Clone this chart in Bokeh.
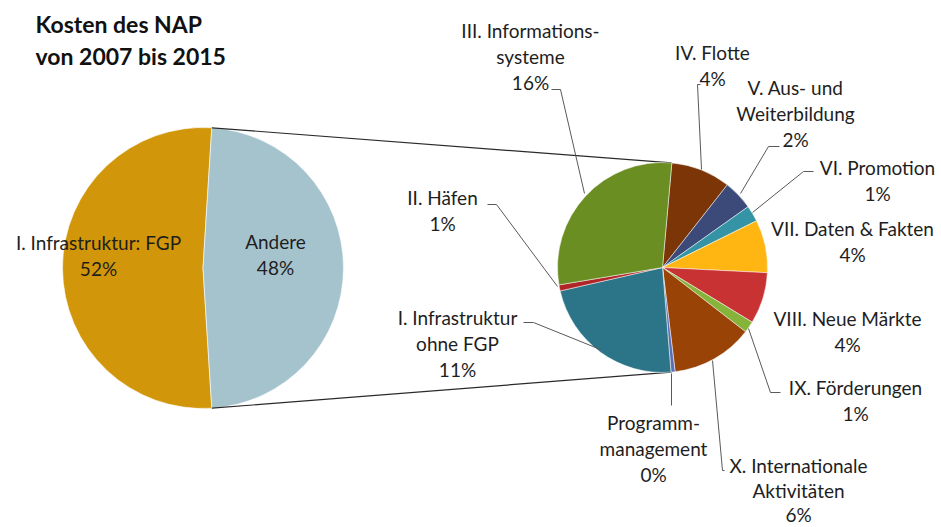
import numpy as np
from bokeh.plotting import figure
from bokeh.models import Range1d
from bokeh.core.properties import value
from bokeh.embed import file_html
from bokeh.resources import INLINE

# ---------------- data ----------------
title_lines = ["Kosten des NAP", "von 2007 bis 2015"]

main_names = ["I. Infrastruktur: FGP", "Andere"]
main_values = [52.0, 48.0]
main_pct_labels = ["52%", "48%"]
main_colors = ["#D19609", "#A5C3CD"]

sub_names = [
    "IV. Flotte",
    "V. Aus- und\nWeiterbildung",
    "VI. Promotion",
    "VII. Daten & Fakten",
    "VIII. Neue Märkte",
    "IX. Förderungen",
    "X. Internationale\nAktivitäten",
    "Programm-\nmanagement",
    "I. Infrastruktur\nohne FGP",
    "II. Häfen",
    "III. Informations-\nsysteme",
]
sub_values = [4.4, 2.2, 1.2, 3.9, 3.8, 0.85, 6.05, 0.3, 10.9, 0.45, 13.95]
sub_pct_labels = ["4%", "2%", "1%", "4%", "4%", "1%", "6%", "0%", "11%", "1%", "16%"]
sub_colors = ["#7B3506", "#3B4A78", "#3494A6", "#FFB612", "#C83232", "#86B43A",
              "#994307", "#5B6EB5", "#2C7589", "#B02525", "#6B8E23"]

# ---------------- layout (pixel space, y measured from top) ----------------
W, H = 941, 527
def Y(y):
    return H - y

C1 = (202.5, 267.5); R1 = 140.5
C2 = (662.0, 267.0); R2 = 105.0
SUB_START_DEG = 5.1      # clockwise from 12 o'clock
CONNECT_DEG = 5.0        # connector attach angle on second pie

FONT = "Lato"
TXT = "#1E1E1E"
LH = 25.8

main_label_pos = [(98, 242), (275, 241)]
sub_label_pos = [
    (712, 52),   # IV
    (795, 87),   # V
    (877, 167),  # VI
    (852, 228),  # VII
    (847, 318),  # VIII
    (855, 387),  # IX
    (798, 465),  # X
    (653, 422),  # Programm
    (457, 317),  # I ohne FGP
    (442, 197),  # II
    (530, 30),   # III
]
sub_line_h = [LH] * 6 + [24.5] + [LH] * 4
leaders = [
    [(700, 84), (697, 84), (701, 169)],
    [(779, 146), (768, 146), (740, 193)],
    [(813, 171), (803, 171), (752, 212)],
    None,
    None,
    [(780, 392), (770, 392), (748, 328)],
    [(724, 470), (722, 470), (712, 360)],
    [(671, 405), (671, 373)],
    [(523, 322), (533, 322), (600, 349)],
    [(487, 204), (496, 204), (557, 286)],
    [(551, 89), (560, 89), (584, 193)],
]

p = figure(width=W, height=H, x_range=Range1d(0, W), y_range=Range1d(0, H),
           output_backend="svg", toolbar_location=None, min_border=0)
p.axis.visible = False
p.grid.visible = False
p.outline_line_color = None
p.background_fill_color = "white"
p.border_fill_color = "white"

# ---------------- main pie ----------------
mv = np.array(main_values)
half = np.pi * mv[1] / mv.sum()        # Andere centered on the right side
main_start = [half, -half]
main_end = [2 * np.pi - half, half]
p.wedge(x=[C1[0]] * 2, y=[Y(C1[1])] * 2, radius=R1,
        start_angle=main_start, end_angle=main_end, direction="anticlock",
        fill_color=main_colors, line_color="white", line_width=0.6)

# ---------------- connectors ----------------
ca = np.deg2rad(CONNECT_DEG)
top_l = (C1[0] + R1 * np.cos(half), Y(C1[1]) + R1 * np.sin(half))
bot_l = (C1[0] + R1 * np.cos(half), Y(C1[1]) - R1 * np.sin(half))
top_r = (C2[0] + R2 * np.sin(ca), Y(C2[1]) + R2 * np.cos(ca))
bot_r = (C2[0] + R2 * np.sin(ca), Y(C2[1]) - R2 * np.cos(ca))
p.multi_line(xs=[[top_l[0], top_r[0]], [bot_l[0], bot_r[0]]],
             ys=[[top_l[1], top_r[1]], [bot_l[1], bot_r[1]]],
             line_color="#2A2A2A", line_width=1.2)

# ---------------- second pie ----------------
sv = np.array(sub_values)
cum = np.concatenate([[0], np.cumsum(sv)]) / sv.sum() * 2 * np.pi
s_cw = np.deg2rad(SUB_START_DEG) + cum[:-1]
e_cw = np.deg2rad(SUB_START_DEG) + cum[1:]
p.wedge(x=[C2[0]] * len(sv), y=[Y(C2[1])] * len(sv), radius=R2,
        start_angle=np.pi / 2 - e_cw, end_angle=np.pi / 2 - s_cw,
        direction="anticlock", fill_color=sub_colors,
        line_color="white", line_width=0.5)

# ---------------- leader lines ----------------
lx, ly = [], []
for ld in leaders:
    if ld:
        lx.append([q[0] for q in ld])
        ly.append([Y(q[1]) for q in ld])
p.multi_line(xs=lx, ys=ly, line_color="#595959", line_width=1)

# ---------------- labels ----------------
tx, ty, tt = [], [], []
def add_label(name, pct, pos, lh=LH):
    lines = name.split("\n") + [pct]
    for i, ln in enumerate(lines):
        tx.append(pos[0]); ty.append(Y(pos[1] + i * lh)); tt.append(ln)

for n, pc, pos in zip(main_names, main_pct_labels, main_label_pos):
    add_label(n, pc, pos)
for n, pc, pos, lh in zip(sub_names, sub_pct_labels, sub_label_pos, sub_line_h):
    add_label(n, pc, pos, lh)

p.text(x=tx, y=ty, text=tt, text_font=value(FONT), text_font_size="19px",
       text_color=TXT, text_align="center", text_baseline="middle")

p.text(x=[35, 35], y=[Y(23), Y(55)], text=title_lines, text_font=value(FONT),
       text_font_size="23px", text_font_style="bold", text_color="#111111",
       text_align="left", text_baseline="middle")

open("out.html", "w").write(file_html(p, INLINE))
